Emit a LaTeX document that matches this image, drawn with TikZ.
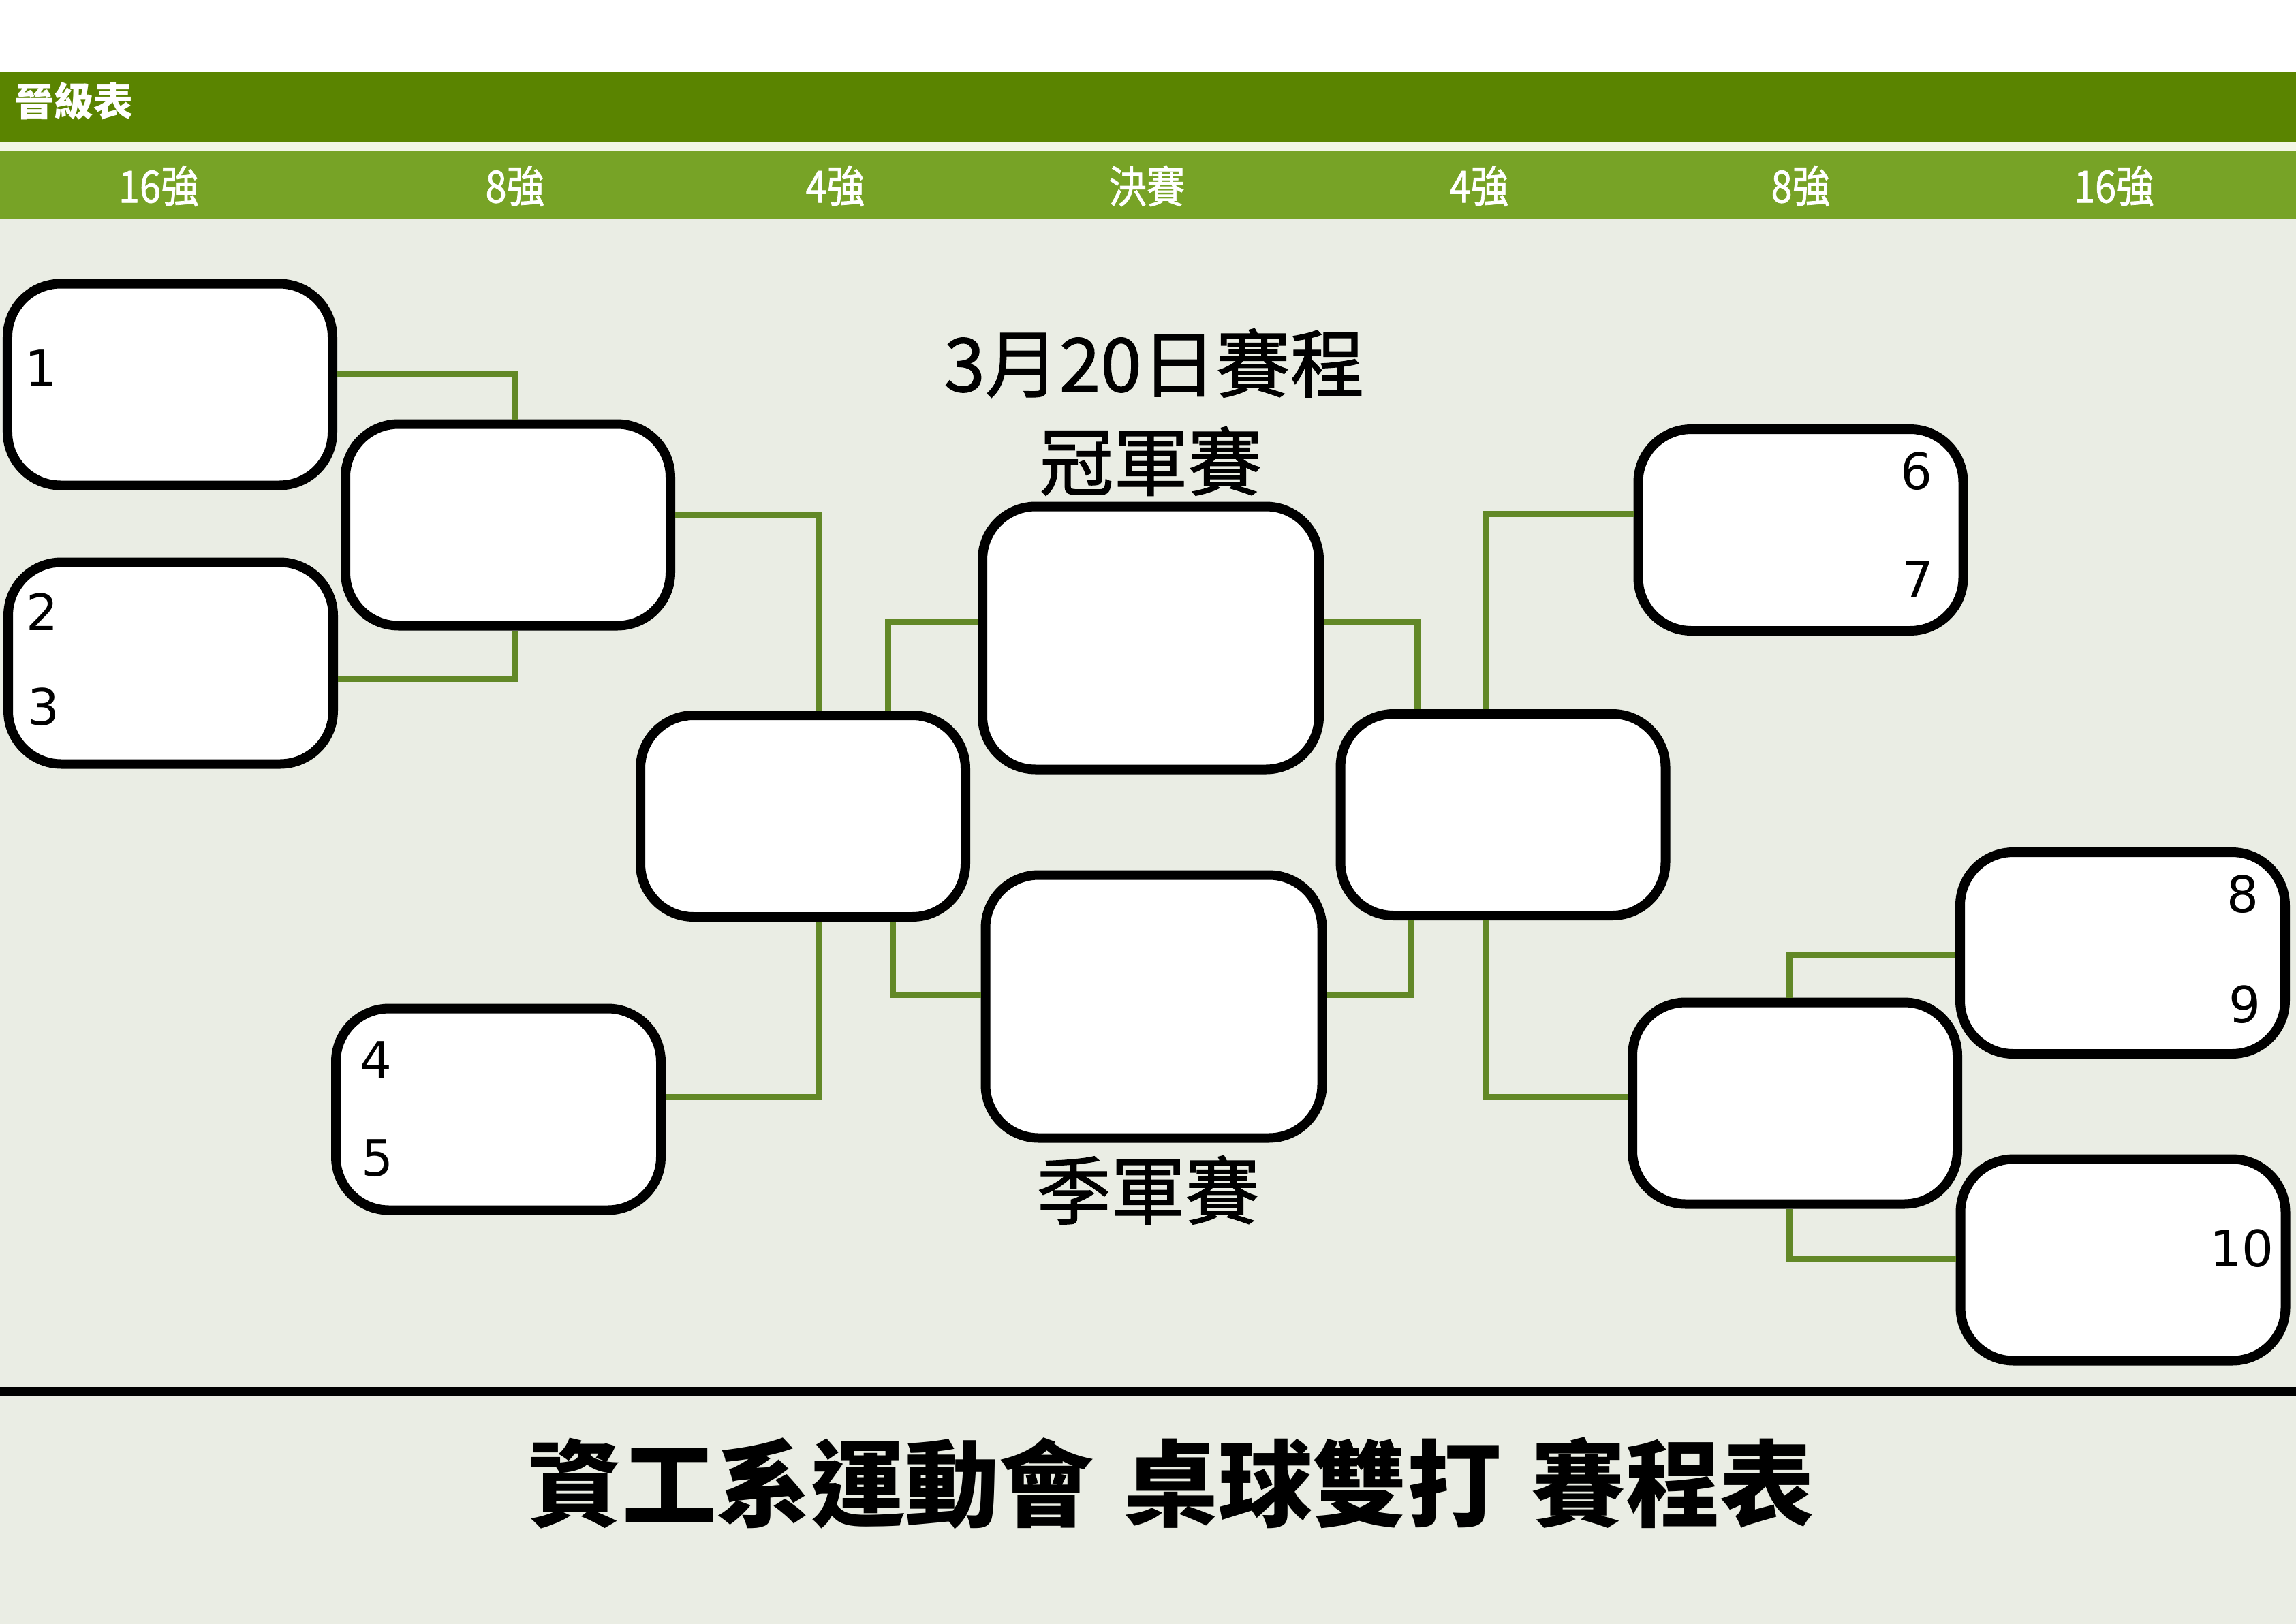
\documentclass[tikz,border=0pt]{standalone}
\usepackage{fontspec}
\setmainfont{DejaVu Sans}
\newfontfamily\cjk{Noto Sans CJK TC}
\newfontfamily\cjkmid{Noto Sans CJK TC}[FakeBold=1.2]
\newfontfamily\seedfont{DejaVu Sans}
\definecolor{bardark}{HTML}{5A8400}
\definecolor{barlight}{HTML}{77A326}
\definecolor{barcream}{HTML}{F2F6E4}
\definecolor{paper}{HTML}{EAEDE4}
\definecolor{wiregreen}{HTML}{628827}
\tikzset{
  slot/.style={draw=black,fill=white,line width=1.4mm,rounded corners=7.8mm,
    minimum width=47.7mm,minimum height=29.6mm,inner sep=0pt},
  bigslot/.style={slot,minimum width=49.4mm,minimum height=38.6mm},
  wire/.style={draw=wiregreen,line width=0.9mm},
  seed/.style={font=\seedfont\fontsize{21}{21}\selectfont,inner sep=0pt},
  roundlab/.style={font=\cjkmid\fontsize{18.5}{18.5}\selectfont,text=white,inner sep=0pt},
  stagetxt/.style={font=\cjkmid\fontsize{31}{31}\selectfont,inner sep=0pt},
}

\begin{document}
\begin{tikzpicture}
  \useasboundingbox (0,0) rectangle (33.7,-23.84);
  % page and header bars
  \fill[white]     (0,0)     rectangle (33.7,-1.06);
  \fill[bardark]   (0,-1.06) rectangle (33.7,-2.09);
  \fill[barcream]  (0,-2.09) rectangle (33.7,-2.21);
  \fill[barlight]  (0,-2.21) rectangle (33.7,-3.22);
  \fill[paper]     (0,-3.22) rectangle (33.7,-23.84);
  \fill[black]     (0,-20.36) rectangle (33.7,-20.49);

  \node[roundlab,anchor=west,font=\cjk\bfseries\fontsize{16.5}{16.5}\selectfont] (tabhead) at (0.21,-1.48) {晉級表};
  \node[roundlab] (c16l) at (2.33,-2.73)  {\scalebox{0.86}[1]{16強}};
  \node[roundlab] (c8l)  at (7.56,-2.73)  {\scalebox{0.86}[1]{8強}};
  \node[roundlab] (c4l)  at (12.26,-2.73) {\scalebox{0.86}[1]{4強}};
  \node[roundlab] (cfin) at (16.83,-2.73) {\scalebox{0.86}[1]{決賽}};
  \node[roundlab] (c4r)  at (21.71,-2.73) {\scalebox{0.86}[1]{4強}};
  \node[roundlab] (c8r)  at (26.43,-2.73) {\scalebox{0.86}[1]{8強}};
  \node[roundlab] (c16r) at (31.03,-2.73) {\scalebox{0.86}[1]{16強}};

  % match slots
  \node[slot]    (b1)    at (2.495,-5.645)  {};
  \node[slot]    (r8a)   at (7.455,-7.705)  {};
  \node[slot]    (b23)   at (2.505,-9.735)  {};
  \node[slot]    (b45)   at (7.315,-16.285) {};
  \node[slot]    (semiL) at (11.785,-11.98) {};
  \node[bigslot] (final) at (16.89,-9.365)  {};
  \node[bigslot] (third) at (16.935,-14.775){};
  \node[slot]    (semiR) at (22.06,-11.96)  {};
  \node[slot]    (b67)   at (26.43,-7.78)   {};
  \node[slot]    (r8b)   at (26.345,-16.195){};
  \node[slot]    (b89)   at (31.155,-13.99) {};
  \node[slot]    (b10)   at (31.16,-18.495) {};

  % bend points of the bracket wires
  \coordinate (j1)  at (7.55,-5.48);
  \coordinate (j2)  at (7.55,-9.96);
  \coordinate (j3)  at (12.01,-7.55);
  \coordinate (j4)  at (12.01,-16.10);
  \coordinate (j5)  at (13.03,-9.12);
  \coordinate (j6)  at (13.10,-14.60);
  \coordinate (j7)  at (20.80,-9.12);
  \coordinate (j8)  at (20.70,-14.60);
  \coordinate (j9)  at (21.81,-7.54);
  \coordinate (j10) at (21.81,-16.10);
  \coordinate (j11) at (26.26,-14.01);
  \coordinate (j12) at (26.26,-18.48);

  \draw[wire] (j1 -| b1.east)   -- (j1)  -- (j1 |- r8a.north);
  \draw[wire] (j2 -| b23.east)  -- (j2)  -- (j2 |- r8a.south);
  \draw[wire] (j3 -| r8a.east)  -- (j3)  -- (j3 |- semiL.north);
  \draw[wire] (j4 -| b45.east)  -- (j4)  -- (j4 |- semiL.south);
  \draw[wire] (j5 |- semiL.north) -- (j5) -- (j5 -| final.west);
  \draw[wire] (j6 |- semiL.south) -- (j6) -- (j6 -| third.west);
  \draw[wire] (j7 -| final.east) -- (j7) -- (j7 |- semiR.north);
  \draw[wire] (j8 -| third.east) -- (j8) -- (j8 |- semiR.south);
  \draw[wire] (j9 |- semiR.north)  -- (j9)  -- (j9 -| b67.west);
  \draw[wire] (j10 |- semiR.south) -- (j10) -- (j10 -| r8b.west);
  \draw[wire] (j11 |- r8b.north)   -- (j11) -- (j11 -| b89.west);
  \draw[wire] (j12 |- r8b.south)   -- (j12) -- (j12 -| b10.west);

  % seeds
  \node[seed] (s1)  at (0.60,-5.41)  {1};
  \node[seed] (s2)  at (0.62,-8.98)  {2};
  \node[seed] (s3)  at (0.64,-10.38) {3};
  \node[seed] (s4)  at (5.52,-15.56) {4};
  \node[seed] (s5)  at (5.54,-17.00) {5};
  \node[seed] (s6)  at (28.13,-6.92) {6};
  \node[seed] (s7)  at (28.15,-8.51) {7};
  \node[seed] (s8)  at (32.92,-13.13) {8};
  \node[seed] (s9)  at (32.95,-14.75) {9};
  \node[seed] (s10) at (32.90,-18.33) {10};

  \node[stagetxt] (date)   at (16.94,-5.33)  {3月20日賽程};
  \node[stagetxt] (champ)  at (16.89,-6.77)  {冠軍賽};
  \node[stagetxt] (bronze) at (16.85,-17.47) {季軍賽};

  \node[inner sep=0pt,font=\cjk\bfseries\fontsize{39.4}{39.4}\selectfont] (title) at (17.19,-21.77)
    {資工系運動會\hspace{0.32em}桌球雙打\hspace{0.32em}賽程表};
\end{tikzpicture}
\end{document}
